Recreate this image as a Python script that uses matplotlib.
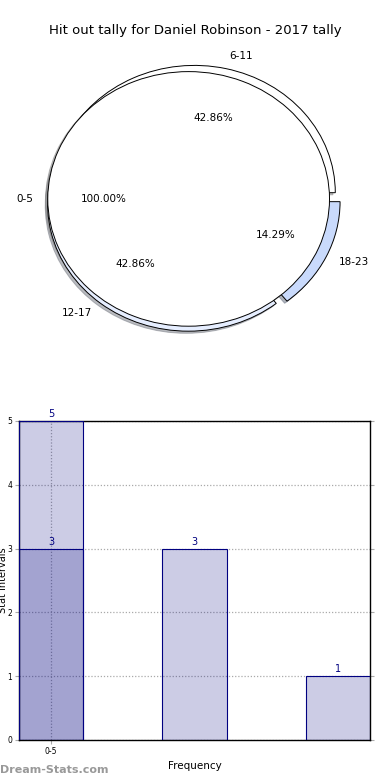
import numpy as np
import matplotlib
matplotlib.use("Agg")
import matplotlib.pyplot as plt

title = "Hit out tally for Daniel Robinson - 2017 tally"

# pie data
pie_labels = ["6-11", "12-17", "18-23"]
pie_values = [3, 3, 1]
pie_colors = ["#ffffff", "#e6eeff", "#c9dafc"]
full_label = ["0-5"]
full_value = [1]

# bar data
bar_pos = [0, 1, 2]
bar_vals = [5, 3, 1]
over_pos = [0]
over_vals = [3]
xtick_labels = ["0-5"]

fig = plt.figure(figsize=(3.9, 7.8), dpi=100)
fig.text(0.5, 0.961, title, ha="center", va="center", fontsize=9.5)

# pie part (elliptical, as in the original)
shade = {"ox": -0.012, "oy": -0.012, "shade": 0.5}
axp = fig.add_axes([0.043, 0.541, 0.903, 0.408])
axp.pie(pie_values, labels=pie_labels, colors=pie_colors, autopct="%.2f%%",
        explode=[0.05, 0.05, 0.05], shadow=shade, startangle=0,
        wedgeprops=dict(edgecolor="black", linewidth=0.7),
        textprops=dict(fontsize=7.5))
axp.pie(full_value, labels=full_label, colors=["#ffffff"], autopct="%.2f%%",
        explode=[0.03], shadow=shade, startangle=0,
        wedgeprops=dict(edgecolor="black", linewidth=0.7),
        textprops=dict(fontsize=7.5))
axp.set_aspect("auto")
axp.set_xlim(-1.25, 1.25)
axp.set_ylim(-1.25, 1.25)
axp.axis("off")

# bar part
ax = fig.add_axes([0.0487, 0.0513, 0.9, 0.409])
w = 0.45
ax.bar(bar_pos, bar_vals, width=w, color="navy", alpha=0.2, zorder=2)
ax.bar(bar_pos, bar_vals, width=w, facecolor="none", edgecolor="navy", linewidth=0.8, zorder=3)
ax.bar(over_pos, over_vals, width=w, color="navy", alpha=0.2, zorder=2)
ax.bar(over_pos, over_vals, width=w, facecolor="none", edgecolor="navy", linewidth=0.8, zorder=3)
for p, v in zip(bar_pos, bar_vals):
    ax.text(p, v + 0.03, str(v), ha="center", va="bottom", fontsize=7, color="navy")
for p, v in zip(over_pos, over_vals):
    ax.text(p, v + 0.03, str(v), ha="center", va="bottom", fontsize=7, color="navy")

ax.set_xlim(-w / 2, 2 + w / 2)
ax.set_ylim(0, 5)
ax.set_xticks([0])
ax.set_xticklabels(xtick_labels, fontsize=5.5)
ax.set_yticks(range(6))
ax.set_yticklabels([str(i) for i in range(6)], fontsize=5.5)
ax.tick_params(axis="both", length=3, color="#aaaaaa", right=True, pad=2)
ax.grid(True, linestyle=(0, (1, 1.5)), color="#aaaaaa", linewidth=0.9, zorder=1)
ax.set_axisbelow(True)
ax.set_ylabel("Stat Intervals", fontsize=7)
ax.yaxis.set_label_coords(-0.03, 0.5)
ax.set_xlabel("Frequency", fontsize=7.5)
ax.xaxis.set_label_coords(0.5, -0.065)
for s in ax.spines.values():
    s.set_linewidth(1)

fig.text(0.0, 0.013, "Dream-Stats.com", fontsize=8, color="#999999",
         fontweight="bold", ha="left", va="center")

fig.savefig("out.png", dpi=100)
